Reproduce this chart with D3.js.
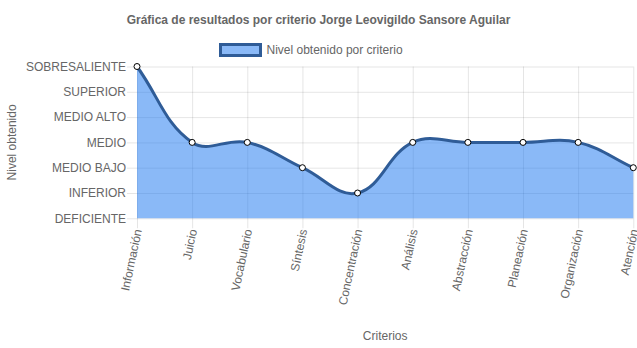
<!DOCTYPE html>
<html>
<head>
<meta charset="utf-8">
<script src="https://cdn.jsdelivr.net/npm/d3@7"></script>
<style>
  html, body { margin: 0; padding: 0; background: #fff; }
  svg { display: block; font-family: "Liberation Sans", Arial, sans-serif; }
</style>
</head>
<body>
<svg id="chart" width="637" height="348"></svg>
<script>
const title = "Gráfica de resultados por criterio Jorge Leovigildo Sansore Aguilar";
const seriesName = "Nivel obtenido por criterio";
const categories = ["Información", "Juicio", "Vocabulario", "Síntesis", "Concentración", "Análisis", "Abstracción", "Planeación", "Organización", "Atención"];
const levels = ["DEFICIENTE", "INFERIOR", "MEDIO BAJO", "MEDIO", "MEDIO ALTO", "SUPERIOR", "SOBRESALIENTE"];
const values = [6, 3, 3, 2, 1, 3, 3, 3, 3, 2];
const yAxisTitle = "Nivel obtenido";
const xAxisTitle = "Criterios";

const W = 637, H = 348;
const pLeft = 137, pRight = 633.3, pTop = 66.5, pBottom = 218.3;
const textColor = "#666";
const gridColor = "rgba(0,0,0,0.1)";
const fillColor = "rgba(30,120,240,0.52)";
const lineColor = "#2f5c97";

const svg = d3.select("#chart");

const x = d3.scalePoint().domain(categories).range([pLeft, pRight]);
const y = d3.scaleLinear().domain([0, levels.length - 1]).range([pBottom, pTop]);

// Y axis with grid lines
const yAxis = d3.axisLeft(y)
  .tickValues(d3.range(levels.length))
  .tickFormat(i => levels[i])
  .tickSize(pRight - pLeft + 10)
  .tickPadding(1);
const gy = svg.append("g").attr("transform", `translate(${pRight},0)`).call(yAxis);
gy.select(".domain").remove();
gy.selectAll(".tick line").attr("stroke", gridColor);
gy.selectAll(".tick text").attr("fill", textColor).style("font-size", "12px")
  .style("font-family", "'Liberation Sans', Arial, sans-serif");

// X axis with grid lines
const xAxis = d3.axisBottom(x).tickSize(pBottom - pTop + 10).tickFormat("");
const gx = svg.append("g").attr("transform", `translate(0,${pTop})`).call(xAxis);
gx.select(".domain").remove();
gx.selectAll(".tick line").attr("stroke", gridColor);

// rotated x labels
const rot = -78;
svg.append("g").selectAll("text")
  .data(categories)
  .join("text")
  .attr("transform", d => `translate(${x(d) + 1},${pBottom + 11}) rotate(${rot})`)
  .attr("text-anchor", "end")
  .attr("dominant-baseline", "central")
  .attr("fill", textColor)
  .style("font-size", "12px")
  .text(d => d);

// Chart.js-like bezier spline (tension 0.4)
const pts = values.map((v, i) => ({ x: x(categories[i]), y: y(v) }));
const t = 0.4;
pts.forEach((p, i) => {
  const prev = pts[i - 1] || p, next = pts[i + 1] || p;
  const d01 = Math.hypot(p.x - prev.x, p.y - prev.y);
  const d12 = Math.hypot(next.x - p.x, next.y - p.y);
  let s01 = d01 / (d01 + d12), s12 = d12 / (d01 + d12);
  if (isNaN(s01)) s01 = 0; if (isNaN(s12)) s12 = 0;
  const fa = t * s01, fb = t * s12;
  const clampX = v => Math.max(pLeft, Math.min(pRight, v));
  const clampY = v => Math.max(pTop, Math.min(pBottom, v));
  p.cp1x = clampX(p.x - fa * (next.x - prev.x));
  p.cp1y = clampY(p.y - fa * (next.y - prev.y));
  p.cp2x = clampX(p.x + fb * (next.x - prev.x));
  p.cp2y = clampY(p.y + fb * (next.y - prev.y));
});
function curvePath(path) {
  path.moveTo(pts[0].x, pts[0].y);
  for (let i = 1; i < pts.length; i++) {
    path.bezierCurveTo(pts[i - 1].cp2x, pts[i - 1].cp2y, pts[i].cp1x, pts[i].cp1y, pts[i].x, pts[i].y);
  }
  return path;
}
const areaPath = curvePath(d3.path());
areaPath.lineTo(pts[pts.length - 1].x, pBottom);
areaPath.lineTo(pts[0].x, pBottom);
areaPath.closePath();
svg.append("path").attr("d", areaPath.toString()).attr("fill", fillColor);
svg.append("path").attr("d", curvePath(d3.path()).toString())
  .attr("fill", "none").attr("stroke", lineColor).attr("stroke-width", 3);

svg.append("g").selectAll("circle")
  .data(pts)
  .join("circle")
  .attr("cx", d => d.x).attr("cy", d => d.y).attr("r", 3)
  .attr("fill", "#fff").attr("stroke", "#000").attr("stroke-width", 1);

// Title
svg.append("text").attr("x", W / 2).attr("y", 20)
  .attr("text-anchor", "middle").attr("dominant-baseline", "central")
  .attr("fill", textColor).style("font-size", "12px").style("font-weight", "bold")
  .text(title);

// Legend
const lx = 220.5;
svg.append("rect").attr("x", lx).attr("y", 44.5).attr("width", 40).attr("height", 11)
  .attr("fill", fillColor).attr("stroke", lineColor).attr("stroke-width", 3);
svg.append("text").attr("x", lx + 46).attr("y", 50)
  .attr("dominant-baseline", "central").attr("fill", textColor)
  .style("font-size", "12px").text(seriesName);

// Axis titles
svg.append("text").attr("transform", `translate(12,${(pTop + pBottom) / 2}) rotate(-90)`)
  .attr("text-anchor", "middle").attr("dominant-baseline", "central")
  .attr("fill", textColor).style("font-size", "12px").text(yAxisTitle);
svg.append("text").attr("x", (pLeft + pRight) / 2).attr("y", 336)
  .attr("text-anchor", "middle").attr("dominant-baseline", "central")
  .attr("fill", textColor).style("font-size", "12px").text(xAxisTitle);
</script>
</body>
</html>
